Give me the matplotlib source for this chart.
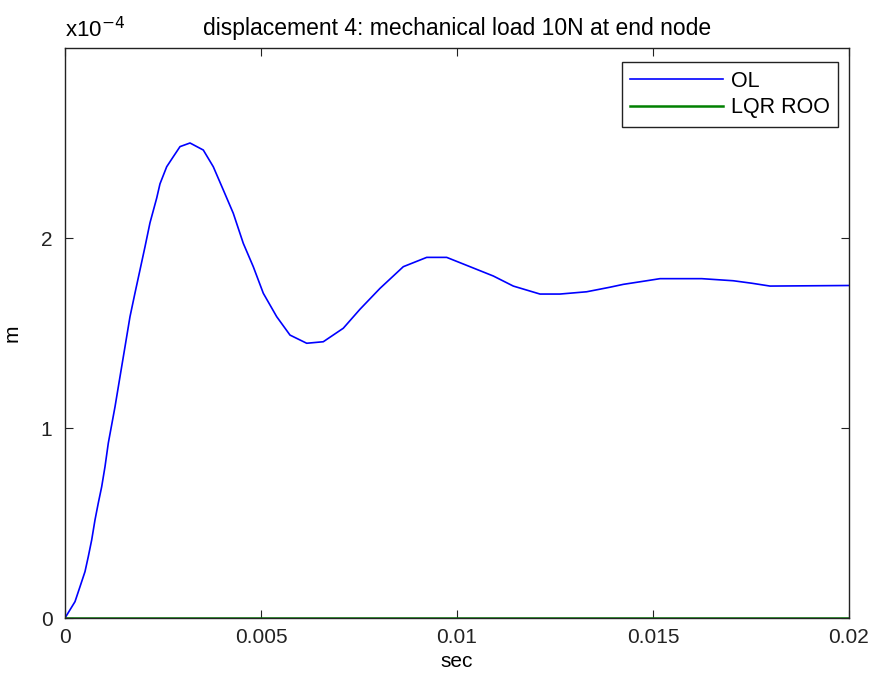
import matplotlib
matplotlib.use('Agg')
import matplotlib.pyplot as plt
import numpy as np

# time in ms, displacement in units of 1e-4 m
t_ms = [0.0, 0.255, 0.383, 0.510, 0.594, 0.681, 0.765, 0.849, 0.936, 1.020,
        1.105, 1.276, 1.403, 1.531, 1.658, 1.786, 1.913, 2.041, 2.168, 2.339,
        2.423, 2.594, 2.763, 2.934, 3.189, 3.528, 3.783, 4.038, 4.293, 4.548,
        4.803, 5.059, 5.400, 5.740, 6.166, 6.589, 7.099, 7.525, 8.036, 8.630,
        9.227, 9.737, 10.332, 10.926, 11.436, 12.117, 12.627, 13.308, 13.903,
        14.242, 14.839, 15.179, 16.243, 17.048, 17.518, 17.985, 20.0]
ol_disp = [0.0, 0.086, 0.165, 0.244, 0.323, 0.411, 0.516, 0.605, 0.691, 0.796,
           0.921, 1.112, 1.270, 1.428, 1.586, 1.711, 1.832, 1.954, 2.080, 2.210,
           2.285, 2.375, 2.428, 2.481, 2.500, 2.463, 2.375, 2.253, 2.130, 1.972,
           1.849, 1.709, 1.586, 1.489, 1.446, 1.454, 1.525, 1.625, 1.735, 1.849,
           1.898, 1.898, 1.849, 1.800, 1.747, 1.705, 1.705, 1.717, 1.741,
           1.756, 1.775, 1.786, 1.786, 1.775, 1.762, 1.747, 1.750]
lqr_t = [0.0, 20.0]
lqr_disp = [0.0, 0.0]

x_ticks = [0, 0.005, 0.01, 0.015, 0.02]
x_labels = ['0', '0.005', '0.01', '0.015', '0.02']
y_ticks = [0, 1, 2]

plt.rcParams['font.family'] = ['Liberation Sans', 'DejaVu Sans']

fig = plt.figure(figsize=(8.78, 6.75), dpi=100)
ax = fig.add_axes([65 / 878, 57 / 675, 784 / 878, 570 / 675])

t_sec = np.array(t_ms) / 1000.0
ax.plot(t_sec, ol_disp, color='#0000ff', lw=1.2, label='OL')
ax.plot(np.array(lqr_t) / 1000.0, lqr_disp, color='#008000', lw=1.8, label='LQR ROO')

ax.set_xlim(0, 0.02)
ax.set_ylim(0, 3)
ax.set_xticks(x_ticks)
ax.set_xticklabels(x_labels)
ax.set_yticks(y_ticks)
ax.tick_params(direction='in', length=6, width=0.8, labelsize=15,
               top=True, right=True, colors='#222222')
ax.tick_params(axis='x', pad=7)
ax.tick_params(axis='y', pad=9)
for s in ax.spines.values():
    s.set_linewidth(1.0)
    s.set_color('#222222')

ax.set_title('displacement 4: mechanical load 10N at end node', fontsize=16.5, pad=9)
ax.set_xlabel('sec', fontsize=15, labelpad=4)
ax.set_ylabel('m', fontsize=15, labelpad=14)
ax.text(0.0, 1.01, r'x10$^{-4}$', transform=ax.transAxes, fontsize=16,
        ha='left', va='bottom')

leg = ax.legend(loc='upper right', bbox_to_anchor=(0.986, 0.975), borderaxespad=0,
                fontsize=15.5, fancybox=False, framealpha=1, edgecolor='#222222',
                handlelength=4.3, handletextpad=0.35, borderpad=0.4, labelspacing=0.25)
leg.get_frame().set_linewidth(1.0)

fig.savefig('out.png', dpi=100)
